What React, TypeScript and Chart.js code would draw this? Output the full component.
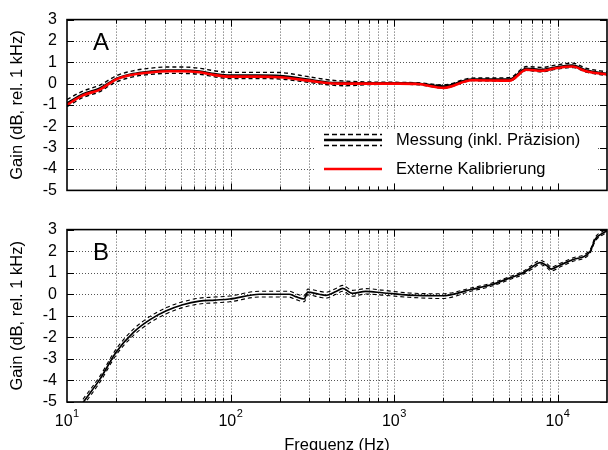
import React, { useEffect, useRef } from 'react';
import { Chart, registerables } from 'chart.js';

Chart.register(...registerables);

const FONT = '"Liberation Sans", Arial, Helvetica, sans-serif';

// ---------- Panel A ----------
const freqA = [10, 12.5, 15.9, 18.3, 20, 25.3, 32, 40.5, 51, 64.5, 80, 98, 150, 199, 302, 402, 505, 670, 1070, 1400, 2010, 2985, 5070, 6440, 7950, 9870, 12300, 14900, 20000];
const measA = [-0.92, -0.5, -0.22, 0.05, 0.22, 0.45, 0.56, 0.62, 0.62, 0.57, 0.45, 0.38, 0.38, 0.36, 0.18, 0.05, 0.03, 0.02, 0.02, 0.0, -0.13, 0.2, 0.2, 0.7, 0.65, 0.77, 0.85, 0.62, 0.46];
const measAUpper = [-0.75, -0.35, -0.07, 0.2, 0.37, 0.6, 0.72, 0.78, 0.78, 0.72, 0.6, 0.53, 0.53, 0.52, 0.32, 0.17, 0.12, 0.08, 0.06, 0.04, -0.06, 0.26, 0.28, 0.8, 0.76, 0.88, 0.96, 0.72, 0.55];
const measALower = [-1.08, -0.65, -0.37, -0.08, 0.08, 0.32, 0.43, 0.48, 0.48, 0.44, 0.32, 0.24, 0.24, 0.22, 0.06, -0.06, -0.1, -0.05, -0.03, -0.05, -0.2, 0.14, 0.12, 0.62, 0.56, 0.68, 0.76, 0.54, 0.38];
const calA = [-0.99, -0.55, -0.28, 0.02, 0.2, 0.42, 0.52, 0.58, 0.58, 0.53, 0.4, 0.33, 0.33, 0.3, 0.14, 0.02, 0.0, 0.0, 0.0, -0.02, -0.2, 0.16, 0.14, 0.65, 0.6, 0.73, 0.8, 0.58, 0.43];

// ---------- Panel B ----------
const freqB = [10, 12.6, 15.9, 20, 25.4, 32, 40.5, 51, 64.5, 80, 98.6, 150, 228, 250, 282, 296, 348, 383, 441, 485, 555, 670, 845, 1230, 1960, 2985, 3960, 5070, 6050, 7000, 7770, 8500, 9130, 10300, 12300, 15800, 16900, 19500, 20000];
const measB = [-6.1, -5.0, -3.94, -2.68, -1.78, -1.19, -0.77, -0.49, -0.32, -0.27, -0.22, 0.0, 0.0, -0.11, -0.22, 0.1, 0.0, -0.05, 0.13, 0.27, 0.04, 0.13, 0.07, -0.04, -0.07, 0.23, 0.45, 0.75, 0.97, 1.27, 1.47, 1.35, 1.17, 1.35, 1.6, 2.0, 2.54, 2.9, 2.95];
const measBUpper = [-5.95, -4.85, -3.8, -2.54, -1.63, -1.04, -0.62, -0.35, -0.18, -0.13, -0.08, 0.14, 0.14, 0.03, -0.08, 0.24, 0.14, 0.09, 0.27, 0.41, 0.18, 0.26, 0.19, 0.06, 0.02, 0.3, 0.52, 0.82, 1.04, 1.36, 1.57, 1.45, 1.26, 1.43, 1.68, 2.08, 2.63, 2.98, 3.03];
const measBLower = [-6.25, -5.15, -4.08, -2.82, -1.92, -1.33, -0.9, -0.62, -0.45, -0.4, -0.35, -0.13, -0.13, -0.24, -0.35, -0.03, -0.13, -0.18, 0.0, 0.14, -0.09, 0.01, -0.04, -0.14, -0.2, 0.15, 0.38, 0.68, 0.9, 1.18, 1.38, 1.26, 1.08, 1.26, 1.52, 1.92, 2.45, 2.82, 2.87];

// ---------- Axes / text ----------
const gridFreqs = [10, 20, 30, 40, 50, 60, 70, 80, 90, 100, 200, 300, 400, 500, 600, 700, 800, 900, 1000, 2000, 3000, 4000, 5000, 6000, 7000, 8000, 9000, 10000, 20000];
const decadeTicks = [10, 100, 1000, 10000];
const decadeExponents = ['1', '2', '3', '4'];
const yTickValues = [-5, -4, -3, -2, -1, 0, 1, 2, 3];
const legendLabels = ['Messung (inkl. Präzision)', 'Externe Kalibrierung'];
const yTitle = 'Gain (dB, rel. 1 kHz)';
const xTitle = 'Frequenz (Hz)';
const panelLetters = ['A', 'B'];

function pts(xs: number[], ys: number[]) {
  return xs.map((x, i) => ({ x, y: ys[i] }));
}

function lineDs(label: string, xs: number[], ys: number[], color: string, width: number, dash: number[]) {
  return {
    label,
    data: pts(xs, ys),
    borderColor: color,
    backgroundColor: color,
    borderWidth: width,
    borderDash: dash,
    pointRadius: 0,
    fill: false,
    cubicInterpolationMode: 'monotone' as const,
  };
}

function framePlugin(letter: string, withLegend: boolean, withXLabels: boolean) {
  return {
    id: 'frame' + letter,
    beforeDatasetsDraw(chart: any) {
      const { ctx, chartArea: a, scales } = chart;
      const xs = scales.x;
      const ys = scales.y;
      ctx.save();
      ctx.strokeStyle = '#555';
      ctx.lineWidth = 1;
      ctx.setLineDash([1, 2]);
      ctx.beginPath();
      for (const f of gridFreqs) {
        if (f === 10 || f === 20000) continue;
        const px = Math.round(xs.getPixelForValue(f)) + 0.5;
        ctx.moveTo(px, a.top);
        ctx.lineTo(px, a.bottom);
      }
      for (const v of yTickValues) {
        if (v === -5 || v === 3) continue;
        const py = Math.round(ys.getPixelForValue(v)) + 0.5;
        ctx.moveTo(a.left, py);
        ctx.lineTo(a.right, py);
      }
      ctx.stroke();
      ctx.setLineDash([]);
      if (withLegend) {
        ctx.fillStyle = '#fff';
        ctx.fillRect(315, 129, 282, 57);
      }
      ctx.restore();
    },
    afterDatasetsDraw(chart: any) {
      const { ctx, chartArea: a, scales } = chart;
      const xs = scales.x;
      const ys = scales.y;
      ctx.save();
      ctx.strokeStyle = '#000';
      ctx.lineWidth = 1;
      ctx.beginPath();
      for (const f of gridFreqs) {
        if (f === 10 || f === 20000) continue;
        const major = decadeTicks.includes(f);
        const len = major ? 7 : 4;
        const px = Math.round(xs.getPixelForValue(f)) + 0.5;
        ctx.moveTo(px, a.bottom);
        ctx.lineTo(px, a.bottom - len);
        ctx.moveTo(px, a.top);
        ctx.lineTo(px, a.top + len);
      }
      for (const v of yTickValues) {
        const py = Math.round(ys.getPixelForValue(v)) + 0.5;
        ctx.moveTo(a.left, py);
        ctx.lineTo(a.left + 7, py);
        ctx.moveTo(a.right, py);
        ctx.lineTo(a.right - 7, py);
      }
      ctx.stroke();
      ctx.lineWidth = 1.6;
      ctx.strokeRect(a.left, a.top, a.right - a.left, a.bottom - a.top);

      ctx.fillStyle = '#000';
      ctx.font = '24px ' + FONT;
      ctx.textBaseline = 'alphabetic';
      ctx.textAlign = 'left';
      ctx.fillText(letter, a.left + 26, a.top + 30);

      if (withLegend) {
        ctx.strokeStyle = '#000';
        ctx.lineWidth = 1.6;
        ctx.setLineDash([5, 3]);
        ctx.beginPath();
        ctx.moveTo(324, 134.5);
        ctx.lineTo(382, 134.5);
        ctx.moveTo(324, 145.5);
        ctx.lineTo(382, 145.5);
        ctx.stroke();
        ctx.setLineDash([]);
        ctx.lineWidth = 2.6;
        ctx.beginPath();
        ctx.moveTo(324, 140);
        ctx.lineTo(382, 140);
        ctx.stroke();
        ctx.strokeStyle = '#ff0000';
        ctx.beginPath();
        ctx.moveTo(324, 169);
        ctx.lineTo(382, 169);
        ctx.stroke();
        ctx.font = '16.5px ' + FONT;
        ctx.textBaseline = 'middle';
        ctx.fillStyle = '#000';
        ctx.fillText(legendLabels[0], 396, 140);
        ctx.fillText(legendLabels[1], 396, 169);
      }

      if (withXLabels) {
        ctx.textBaseline = 'alphabetic';
        ctx.textAlign = 'left';
        decadeTicks.forEach((d, i) => {
          const px = xs.getPixelForValue(d);
          ctx.font = '16px ' + FONT;
          const wb = ctx.measureText('10').width;
          ctx.font = '11px ' + FONT;
          const ws = ctx.measureText(decadeExponents[i]).width;
          const start = px - (wb + ws + 0.5) / 2;
          ctx.font = '16px ' + FONT;
          ctx.fillText('10', start, a.bottom + 24);
          ctx.font = '11px ' + FONT;
          ctx.fillText(decadeExponents[i], start + wb + 0.5, a.bottom + 15);
        });
      }
      ctx.restore();
    },
  };
}

function makeConfig(panel: 'A' | 'B'): any {
  const isA = panel === 'A';
  const H = isA ? 210 : 260;
  const areaTop = isA ? 17 : 13;
  const areaBottom = isA ? 195 : 192;
  const datasets = isA
    ? [
        lineDs(legendLabels[1], freqA, calA, '#ff0000', 2.6, []),
        lineDs(legendLabels[0], freqA, measA, '#000000', 2.4, []),
        lineDs(legendLabels[0] + ' +', freqA, measAUpper, '#000000', 1.4, [4, 3]),
        lineDs(legendLabels[0] + ' -', freqA, measALower, '#000000', 1.4, [4, 3]),
      ]
    : [
        lineDs(legendLabels[0], freqB, measB, '#000000', 1.7, []),
        lineDs(legendLabels[0] + ' +', freqB, measBUpper, '#000000', 1.1, [4, 3]),
        lineDs(legendLabels[0] + ' -', freqB, measBLower, '#000000', 1.1, [4, 3]),
      ];
  return {
    type: 'line',
    data: { datasets },
    options: {
      animation: false,
      responsive: false,
      devicePixelRatio: 1,
      layout: { padding: { left: 0, right: 1, top: areaTop, bottom: 0 } },
      plugins: { legend: { display: false }, tooltip: { enabled: false } },
      scales: {
        x: {
          type: 'logarithmic',
          min: 10,
          max: 20000,
          grid: { display: false, drawTicks: false },
          border: { display: false },
          ticks: { display: false },
          afterBuildTicks: (s: any) => {
            s.ticks = gridFreqs.map((v) => ({ value: v }));
          },
          afterFit: (s: any) => {
            s.height = H - areaBottom;
          },
          title: {
            display: !isA,
            text: xTitle,
            color: '#000',
            font: { size: 16.5, family: FONT },
            padding: { top: 0, bottom: 15 },
          },
        },
        y: {
          type: 'linear',
          min: -5,
          max: 3,
          grid: { display: false, drawTicks: false },
          border: { display: false },
          afterBuildTicks: (s: any) => {
            s.ticks = yTickValues.map((v) => ({ value: v }));
          },
          ticks: {
            stepSize: 1,
            autoSkip: false,
            padding: 10,
            color: '#000',
            font: { size: 16, family: FONT },
          },
          afterFit: (s: any) => {
            s.width = 67;
          },
          title: {
            display: true,
            text: yTitle,
            color: '#000',
            font: { size: 16.5, family: FONT },
            padding: { top: 8, bottom: 0 },
          },
        },
      },
    },
    plugins: [framePlugin(isA ? panelLetters[0] : panelLetters[1], isA, !isA)],
  };
}

export default function App() {
  const refA = useRef<HTMLCanvasElement>(null);
  const refB = useRef<HTMLCanvasElement>(null);
  useEffect(() => {
    Chart.defaults.font.family = FONT;
    Chart.defaults.color = '#000';
    const a = new Chart(refA.current as HTMLCanvasElement, makeConfig('A'));
    const b = new Chart(refB.current as HTMLCanvasElement, makeConfig('B'));
    return () => {
      a.destroy();
      b.destroy();
    };
  }, []);
  return (
    <div style={{ position: 'absolute', left: 0, top: 0, width: 608, height: 450, overflow: 'hidden', background: '#fff' }}>
      <canvas ref={refA} width={608} height={210} style={{ position: 'absolute', left: 0, top: 0, width: 608, height: 210 }} />
      <canvas ref={refB} width={608} height={260} style={{ position: 'absolute', left: 0, top: 210, width: 608, height: 260 }} />
    </div>
  );
}
